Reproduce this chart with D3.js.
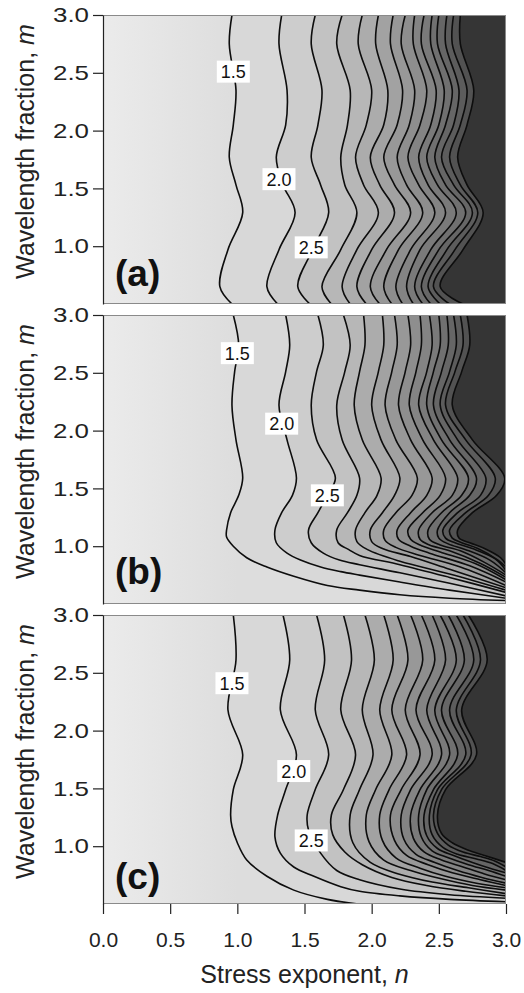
<!DOCTYPE html>
<html>
<head>
<meta charset="utf-8">
<script src="https://cdn.jsdelivr.net/npm/d3@7"></script>
<style>
  body { margin: 0; background: #fff; }
  svg { display: block; }
</style>
</head>
<body>
<div id="chart"></div>
<script>
// Contour levels (only the first three carry labels in the figure)
const LEVELS = [1.5, 2.0, 2.5, 3.0, 3.5, 4.0, 4.5, 5.0, 5.5, 6.0, 6.5, 7.0, 7.5, 8.0, 8.5];
const X_TICKS = [0.0, 0.5, 1.0, 1.5, 2.0, 2.5, 3.0];
const Y_TICKS = [1.0, 1.5, 2.0, 2.5, 3.0];
const PANEL_NAMES = ['(a)', '(b)', '(c)'];

// Panel (a): n position of every contour at shared m rows
const M_ROWS_A = [3.0, 2.75, 2.35, 2.05, 1.77, 1.53, 1.29, 0.97, 0.65, 0.5];
const N_A = [
  [0.96, 0.94, 0.99, 0.97, 0.94, 0.99, 1.04, 0.93, 0.87, 0.96],
  [1.33, 1.31, 1.37, 1.36, 1.29, 1.34, 1.43, 1.31, 1.22, 1.30],
  [1.58, 1.55, 1.63, 1.60, 1.55, 1.62, 1.68, 1.56, 1.45, 1.54],
  [1.78, 1.74, 1.84, 1.82, 1.77, 1.80, 1.89, 1.77, 1.63, 1.70],
  [1.93, 1.90, 2.00, 1.96, 1.88, 1.94, 2.05, 1.89, 1.78, 1.84],
  [2.05, 2.03, 2.12, 2.09, 1.99, 2.06, 2.17, 2.00, 1.89, 1.96],
  [2.16, 2.14, 2.23, 2.19, 2.09, 2.17, 2.29, 2.11, 1.99, 2.06],
  [2.25, 2.22, 2.32, 2.28, 2.19, 2.26, 2.38, 2.20, 2.09, 2.15],
  [2.32, 2.31, 2.41, 2.36, 2.27, 2.35, 2.47, 2.29, 2.18, 2.23],
  [2.39, 2.37, 2.48, 2.44, 2.35, 2.42, 2.55, 2.36, 2.26, 2.31],
  [2.45, 2.44, 2.54, 2.50, 2.41, 2.49, 2.63, 2.44, 2.32, 2.38],
  [2.50, 2.49, 2.60, 2.55, 2.47, 2.55, 2.70, 2.50, 2.37, 2.44],
  [2.56, 2.55, 2.65, 2.61, 2.52, 2.61, 2.75, 2.56, 2.42, 2.51],
  [2.61, 2.60, 2.71, 2.66, 2.58, 2.66, 2.79, 2.62, 2.46, 2.58],
  [2.66, 2.66, 2.76, 2.71, 2.64, 2.71, 2.83, 2.68, 2.51, 2.68]
];

// Panel (b): upper wavy part at shared m rows, then the sweep to the right edge as [n, m]
const M_ROWS_B = [3.0, 2.74, 2.51, 2.22, 1.92, 1.59, 1.44, 1.29, 1.14];
const N_B = [
  [0.97, 1.01, 0.98, 0.96, 0.99, 1.04, 1.01, 0.95, 0.92],
  [1.36, 1.39, 1.36, 1.31, 1.37, 1.44, 1.41, 1.33, 1.28],
  [1.60, 1.64, 1.59, 1.55, 1.59, 1.73, 1.67, 1.60, 1.53],
  [1.79, 1.84, 1.80, 1.74, 1.78, 1.91, 1.89, 1.82, 1.74],
  [1.94, 1.95, 1.91, 1.87, 1.93, 2.07, 2.04, 1.95, 1.88],
  [2.08, 2.09, 2.05, 2.00, 2.07, 2.21, 2.17, 2.08, 1.99],
  [2.17, 2.19, 2.15, 2.10, 2.18, 2.34, 2.30, 2.18, 2.09],
  [2.27, 2.29, 2.25, 2.20, 2.29, 2.45, 2.41, 2.29, 2.19],
  [2.36, 2.37, 2.33, 2.28, 2.38, 2.55, 2.51, 2.38, 2.27],
  [2.43, 2.45, 2.41, 2.35, 2.46, 2.64, 2.60, 2.45, 2.35],
  [2.50, 2.51, 2.46, 2.41, 2.52, 2.72, 2.67, 2.52, 2.42],
  [2.56, 2.57, 2.52, 2.46, 2.58, 2.78, 2.73, 2.58, 2.49],
  [2.61, 2.63, 2.58, 2.51, 2.64, 2.85, 2.81, 2.64, 2.53],
  [2.66, 2.68, 2.62, 2.55, 2.70, 2.92, 2.87, 2.70, 2.58],
  [2.71, 2.73, 2.67, 2.60, 2.75, 2.99, 2.93, 2.75, 2.64]
];
const TAIL_B = [
  [[0.92, 1.08], [0.97, 1.00], [1.07, 0.90], [1.22, 0.82], [1.42, 0.74], [1.67, 0.66], [1.91, 0.62], [2.21, 0.58], [2.58, 0.55], [3.0, 0.53]],
  [[1.29, 1.03], [1.37, 0.94], [1.47, 0.88], [1.62, 0.82], [1.77, 0.78], [1.91, 0.75], [2.21, 0.69], [2.58, 0.62], [3.0, 0.55]],
  [[1.55, 1.03], [1.64, 0.94], [1.76, 0.88], [1.91, 0.84], [2.21, 0.77], [2.58, 0.68], [3.0, 0.57]],
  [[1.75, 1.03], [1.83, 0.97], [1.91, 0.92], [2.21, 0.84], [2.58, 0.73], [3.0, 0.60]],
  [[1.89, 1.04], [1.97, 0.97], [2.21, 0.87], [2.58, 0.76], [3.0, 0.62]],
  [[2.00, 1.04], [2.08, 0.98], [2.29, 0.91], [2.58, 0.80], [3.0, 0.64]],
  [[2.10, 1.05], [2.18, 0.99], [2.36, 0.92], [2.66, 0.82], [3.0, 0.66]],
  [[2.20, 1.06], [2.29, 1.00], [2.43, 0.94], [2.73, 0.83], [3.0, 0.69]],
  [[2.29, 1.06], [2.36, 1.01], [2.51, 0.95], [2.77, 0.85], [3.0, 0.71]],
  [[2.36, 1.06], [2.43, 1.01], [2.58, 0.96], [2.81, 0.85], [3.0, 0.73]],
  [[2.43, 1.06], [2.51, 1.01], [2.66, 0.96], [2.84, 0.86], [3.0, 0.75]],
  [[2.50, 1.07], [2.57, 1.02], [2.70, 0.97], [2.88, 0.88], [3.0, 0.77]],
  [[2.55, 1.07], [2.62, 1.03], [2.75, 0.98], [2.92, 0.89], [3.0, 0.79]],
  [[2.60, 1.07], [2.67, 1.03], [2.79, 0.98], [2.94, 0.88], [3.0, 0.82]],
  [[2.65, 1.07], [2.73, 1.03], [2.84, 0.98], [2.96, 0.90], [3.0, 0.84]]
];

// Panel (c)
const M_ROWS_C = [3.0, 2.61, 2.18, 1.79, 1.49, 1.27];
const N_C = [
  [0.97, 0.99, 0.93, 1.04, 0.97, 0.95],
  [1.34, 1.39, 1.32, 1.44, 1.36, 1.30],
  [1.59, 1.65, 1.58, 1.68, 1.58, 1.52],
  [1.79, 1.85, 1.77, 1.88, 1.79, 1.70],
  [1.95, 2.02, 1.93, 2.01, 1.91, 1.84],
  [2.09, 2.16, 2.06, 2.15, 2.03, 1.96],
  [2.19, 2.27, 2.15, 2.26, 2.13, 2.06],
  [2.29, 2.38, 2.25, 2.36, 2.22, 2.14],
  [2.37, 2.47, 2.33, 2.45, 2.29, 2.22],
  [2.45, 2.55, 2.41, 2.52, 2.36, 2.29],
  [2.51, 2.63, 2.47, 2.58, 2.41, 2.35],
  [2.57, 2.69, 2.52, 2.64, 2.46, 2.39],
  [2.63, 2.76, 2.58, 2.70, 2.49, 2.43],
  [2.68, 2.81, 2.63, 2.74, 2.52, 2.46],
  [2.72, 2.86, 2.67, 2.78, 2.55, 2.49]
];
const TAIL_C = [
  [[0.96, 1.17], [1.00, 1.03], [1.07, 0.88], [1.22, 0.74], [1.42, 0.62], [1.67, 0.54], [1.90, 0.50]],
  [[1.28, 1.08], [1.32, 0.94], [1.42, 0.82], [1.57, 0.74], [1.77, 0.65], [1.91, 0.61], [2.21, 0.57], [2.58, 0.54], [3.0, 0.52]],
  [[1.53, 1.14], [1.62, 0.94], [1.74, 0.79], [1.91, 0.71], [2.21, 0.63], [2.58, 0.58], [3.0, 0.55]],
  [[1.71, 1.10], [1.80, 0.95], [1.93, 0.84], [2.15, 0.73], [2.41, 0.66], [2.70, 0.61], [3.0, 0.57]],
  [[1.86, 1.03], [1.99, 0.86], [2.20, 0.76], [2.45, 0.69], [2.72, 0.64], [3.0, 0.59]],
  [[1.98, 1.04], [2.09, 0.88], [2.29, 0.79], [2.51, 0.72], [2.75, 0.66], [3.0, 0.62]],
  [[2.08, 1.05], [2.18, 0.90], [2.36, 0.81], [2.55, 0.74], [2.78, 0.68], [3.0, 0.64]],
  [[2.17, 1.05], [2.26, 0.92], [2.42, 0.84], [2.60, 0.77], [2.81, 0.71], [3.0, 0.66]],
  [[2.24, 1.06], [2.33, 0.93], [2.47, 0.86], [2.64, 0.79], [2.82, 0.73], [3.0, 0.68]],
  [[2.31, 1.07], [2.39, 0.95], [2.52, 0.88], [2.68, 0.82], [2.84, 0.76], [3.0, 0.71]],
  [[2.37, 1.08], [2.45, 0.96], [2.57, 0.90], [2.72, 0.84], [2.87, 0.79], [3.0, 0.74]],
  [[2.41, 1.09], [2.49, 0.98], [2.61, 0.92], [2.75, 0.86], [2.88, 0.81], [3.0, 0.77]],
  [[2.45, 1.10], [2.53, 0.99], [2.64, 0.93], [2.78, 0.89], [2.90, 0.85], [3.0, 0.79]],
  [[2.49, 1.11], [2.57, 1.01], [2.68, 0.95], [2.81, 0.91], [2.92, 0.87], [3.0, 0.82]],
  [[2.52, 1.11], [2.60, 1.03], [2.71, 0.97], [2.84, 0.92], [3.0, 0.86]]
];

// Inline contour labels: [level text, n, m]
const LABELS_A = [['1.5', 0.97, 2.51], ['2.0', 1.31, 1.58], ['2.5', 1.55, 0.99]];
const LABELS_B = [['1.5', 1.00, 2.67], ['2.0', 1.33, 2.06], ['2.5', 1.67, 1.44]];
const LABELS_C = [['1.5', 0.96, 2.41], ['2.0', 1.42, 1.65], ['2.5', 1.55, 1.05]];

// ---- layout / style ----
const W = 524, H = 993;
const PLOT_L = 103, PLOT_R = 506;
const PANEL_TOPS = [15, 315, 615];
const PANEL_H = 289;
const LABEL_BASE = [18, 20, 15];
const FONT = '"Liberation Sans", Arial, Helvetica, sans-serif';
// band fills from the low side (< 1.5) to the high side (> 8.5)
const BAND_FILL = ['url(#band0)', '#d8d8d8', '#cdcdcd', '#c2c2c2', '#b7b7b7', '#acacac',
  '#a2a2a2', '#989898', '#8e8e8e', '#848484', '#7a7a7a', '#707070', '#666666',
  '#5c5c5c', '#525252', '#353535'];

function zipRows(rows, ns, tail) {
  const pts = rows.map((m, i) => [ns[i], m]);
  return tail ? pts.concat(tail) : pts;
}

const PANELS = [
  { contours: N_A.map(ns => zipRows(M_ROWS_A, ns)), labels: LABELS_A },
  { contours: N_B.map((ns, k) => zipRows(M_ROWS_B, ns, TAIL_B[k])), labels: LABELS_B },
  { contours: N_C.map((ns, k) => zipRows(M_ROWS_C, ns, TAIL_C[k])), labels: LABELS_C }
];

const svg = d3.select('#chart').append('svg')
  .attr('width', W).attr('height', H)
  .style('font-family', FONT);

const x = d3.scaleLinear().domain([0, 3]).range([PLOT_L, PLOT_R]);

const defs = svg.append('defs');
const grad = defs.append('linearGradient')
  .attr('id', 'band0')
  .attr('gradientUnits', 'userSpaceOnUse')
  .attr('x1', x(0)).attr('x2', x(1.0)).attr('y1', 0).attr('y2', 0);
grad.append('stop').attr('offset', 0).attr('stop-color', '#ebebeb');
grad.append('stop').attr('offset', 1).attr('stop-color', '#dddddd');

PANELS.forEach((panel, pi) => {
  const top = PANEL_TOPS[pi];
  const y = d3.scaleLinear().domain([0.5, 3]).range([top + PANEL_H, top]);

  defs.append('clipPath').attr('id', 'clip' + pi)
    .append('rect')
    .attr('x', PLOT_L).attr('y', top)
    .attr('width', PLOT_R - PLOT_L).attr('height', PANEL_H);

  const g = svg.append('g').attr('clip-path', `url(#clip${pi})`);

  g.append('rect')
    .attr('x', PLOT_L).attr('y', top)
    .attr('width', PLOT_R - PLOT_L).attr('height', PANEL_H)
    .attr('fill', BAND_FILL[0]);

  const line = d3.line()
    .x(d => x(d[0]))
    .y(d => y(d[1]))
    .curve(d3.curveCatmullRom.alpha(0.5));

  // filled bands: region on the high side of each contour
  panel.contours.forEach((pts, k) => {
    const last = pts[pts.length - 1];
    let d = line(pts);
    if (last[0] < 3) d += `L${x(3)},${y(0.5)}`;
    d += `L${x(3)},${y(3)}Z`;
    g.append('path').attr('d', d).attr('fill', BAND_FILL[k + 1]);
  });

  // contour lines
  g.selectAll('path.contour')
    .data(panel.contours)
    .enter()
    .append('path')
    .attr('class', 'contour')
    .attr('d', line)
    .attr('fill', 'none')
    .attr('stroke', '#0d0d0d')
    .attr('stroke-width', 1.6);

  // inline labels
  const lab = g.selectAll('g.lab')
    .data(panel.labels)
    .enter()
    .append('g')
    .attr('class', 'lab')
    .attr('transform', d => `translate(${x(d[1])},${y(d[2])})`);
  lab.append('rect')
    .attr('x', -16.5).attr('y', -11)
    .attr('width', 33).attr('height', 22)
    .attr('fill', '#fff');
  lab.append('text')
    .attr('text-anchor', 'middle')
    .attr('dy', '0.36em')
    .attr('font-size', 18)
    .attr('fill', '#111')
    .text(d => d[0]);

  // panel letter
  svg.append('text')
    .attr('x', PLOT_L + 12)
    .attr('y', top + PANEL_H - LABEL_BASE[pi])
    .attr('font-size', 37)
    .attr('font-weight', 'bold')
    .attr('fill', '#111')
    .text(PANEL_NAMES[pi]);

  // frame
  svg.append('rect')
    .attr('x', PLOT_L + 0.5).attr('y', top + 0.5)
    .attr('width', PLOT_R - PLOT_L - 1).attr('height', PANEL_H - 1)
    .attr('fill', 'none')
    .attr('stroke', '#8a8a8a')
    .attr('stroke-width', 1);

  // y axis
  const yAxis = svg.append('g')
    .attr('transform', `translate(${PLOT_L},0)`)
    .call(d3.axisLeft(y).tickValues(Y_TICKS).tickFormat(d3.format('.1f'))
      .tickSize(10).tickSizeOuter(0).tickPadding(4));
  yAxis.select('.domain').attr('stroke', '#222').attr('stroke-width', 1.2);
  yAxis.selectAll('.tick line').attr('stroke', '#222').attr('stroke-width', 1.2);
  // the y tick labels are printed wider than the x ones in the figure
  yAxis.selectAll('.tick text')
    .attr('font-size', 21).attr('font-family', FONT).attr('fill', '#222')
    .attr('textLength', 36).attr('lengthAdjust', 'spacingAndGlyphs');

  // y title
  const yt = svg.append('text')
    .attr('transform', `translate(34,${top + PANEL_H / 2 - 8}) rotate(-90)`)
    .attr('text-anchor', 'middle')
    .attr('font-size', 25)
    .attr('fill', '#222');
  yt.append('tspan').text('Wavelength fraction, ');
  yt.append('tspan').attr('font-style', 'italic').text('m');
});

// x axis under the last panel
const bottom = PANEL_TOPS[2] + PANEL_H;
const xAxis = svg.append('g')
  .attr('transform', `translate(0,${bottom})`)
  .call(d3.axisBottom(x).tickValues(X_TICKS).tickFormat(d3.format('.1f'))
    .tickSize(10).tickSizeOuter(0).tickPadding(18));
xAxis.select('.domain').remove();
xAxis.selectAll('.tick line').attr('stroke', '#222').attr('stroke-width', 1.2);
xAxis.selectAll('.tick text')
  .attr('font-size', 21).attr('font-family', FONT).attr('fill', '#222');

const xt = svg.append('text')
  .attr('x', (PLOT_L + PLOT_R) / 2)
  .attr('y', 983)
  .attr('text-anchor', 'middle')
  .attr('font-size', 25)
  .attr('fill', '#222');
xt.append('tspan').text('Stress exponent, ');
xt.append('tspan').attr('font-style', 'italic').text('n');
</script>
</body>
</html>
